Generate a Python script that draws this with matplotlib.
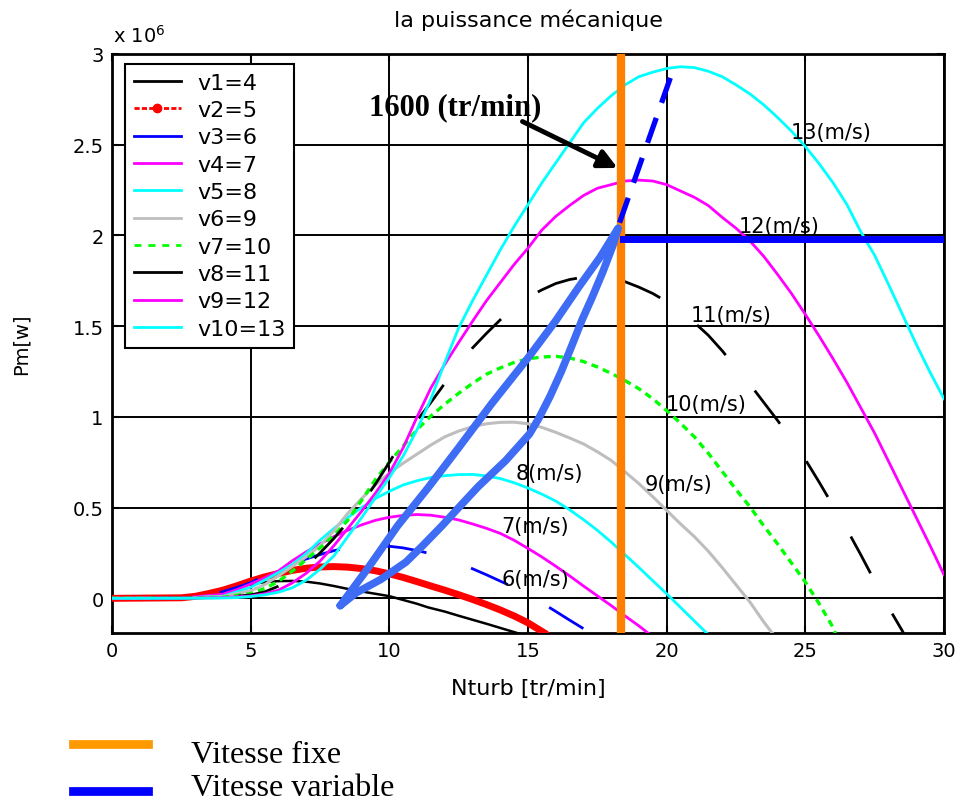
import matplotlib
matplotlib.use("Agg")
import matplotlib.pyplot as plt
from matplotlib.lines import Line2D

plt.rcParams['font.family'] = ['DejaVu Sans']
plt.rcParams['lines.scale_dashes'] = False

# Mechanical power curves (in 10^6 W) versus turbine speed, one per wind speed
N_v4 = [0, 2, 2.5, 3, 3.5, 4, 4.5, 5, 5.5, 6, 6.5, 7, 7.5, 8, 8.5, 9, 9.5, 10, 11, 11.4, 12, 12.5, 13, 13.5, 14, 14.8]
P_v4 = [0, 0.002, 0.006, 0.014, 0.028, 0.046, 0.064, 0.078, 0.089, 0.095, 0.096, 0.092, 0.082, 0.068, 0.052, 0.038,
        0.025, 0.012, -0.03, -0.05, -0.073, -0.096, -0.118, -0.14, -0.163, -0.2]

N_v5 = [0, 2.5, 3, 3.5, 4, 4.5, 5, 5.5, 6, 6.5, 7, 7.5, 8, 8.5, 9, 9.5, 10, 10.5, 11, 11.5, 12, 12.5, 13, 13.5, 14,
        14.5, 15, 15.65]
P_v5 = [0, 0.003, 0.011, 0.027, 0.045, 0.069, 0.095, 0.118, 0.137, 0.154, 0.166, 0.173, 0.175, 0.172, 0.164, 0.152,
        0.135, 0.115, 0.092, 0.068, 0.045, 0.02, -0.006, -0.034, -0.064, -0.097, -0.135, -0.196]

N_v6 = [0, 2.5, 3, 3.5, 4, 4.5, 5, 5.5, 6, 6.5, 7, 7.5, 8, 8.5, 9, 9.5, 10, 10.5, 11, 11.5, 12, 12.5, 13, 13.5, 14,
        14.5, 15, 15.5, 16, 16.5, 17, 17.3]
P_v6 = [0, 0.001, 0.006, 0.017, 0.037, 0.06, 0.086, 0.125, 0.161, 0.19, 0.217, 0.241, 0.263, 0.277, 0.285, 0.288,
        0.287, 0.278, 0.263, 0.246, 0.224, 0.195, 0.163, 0.13, 0.095, 0.06, 0.02, -0.025, -0.072, -0.12, -0.167, -0.2]

N_v7 = [0, 2.5, 4, 4.5, 5, 5.5, 6, 6.5, 7, 7.5, 8, 8.5, 9, 9.5, 10, 10.5, 11, 11.5, 12, 12.5, 13, 13.5, 14, 14.5, 15,
        15.5, 16, 16.5, 17, 17.5, 18, 18.5, 19, 19.4]
P_v7 = [0, 0.001, 0.023, 0.048, 0.079, 0.112, 0.151, 0.207, 0.256, 0.30, 0.34, 0.375, 0.405, 0.43, 0.447, 0.457, 0.462,
        0.458, 0.447, 0.432, 0.41, 0.386, 0.358, 0.32, 0.275, 0.228, 0.177, 0.124, 0.068, 0.014, -0.04, -0.097,
        -0.152, -0.2]

N_v8 = [0, 2.5, 4, 5, 5.5, 6, 6.5, 7, 7.5, 8, 8.5, 9, 9.5, 10, 10.5, 11, 11.5, 12, 12.5, 13, 13.5, 14, 14.5, 15, 15.5,
        16, 16.5, 17, 17.5, 18, 18.5, 19, 19.5, 20, 20.5, 21, 21.5]
P_v8 = [0, 0.001, 0.012, 0.061, 0.10, 0.142, 0.187, 0.247, 0.32, 0.385, 0.445, 0.50, 0.55, 0.59, 0.625, 0.648, 0.666,
        0.676, 0.682, 0.683, 0.675, 0.66, 0.637, 0.608, 0.574, 0.536, 0.488, 0.434, 0.375, 0.31, 0.24, 0.17, 0.097,
        0.025, -0.05, -0.125, -0.2]

N_v9 = [0, 2.5, 4, 5, 5.5, 6, 6.5, 7, 7.5, 8, 8.5, 9, 9.5, 10, 10.5, 11, 11.5, 12, 12.5, 13, 13.5, 14, 14.5, 15, 15.5,
        16, 16.5, 17, 17.5, 18, 18.5, 19, 19.5, 20, 20.5, 21, 21.5, 22, 22.5, 23, 23.5, 23.85]
P_v9 = [0, 0.001, 0.01, 0.042, 0.075, 0.124, 0.176, 0.229, 0.29, 0.373, 0.468, 0.55, 0.625, 0.69, 0.745, 0.795, 0.845,
        0.89, 0.922, 0.946, 0.962, 0.97, 0.971, 0.962, 0.942, 0.915, 0.884, 0.851, 0.808, 0.76, 0.697, 0.632, 0.56,
        0.485, 0.41, 0.34, 0.26, 0.17, 0.075, -0.02, -0.13, -0.2]

N_v10 = [0, 2.5, 4, 5, 5.5, 6, 6.5, 7, 7.5, 8, 8.5, 9, 9.5, 10, 10.5, 11, 11.5, 12, 12.5, 13, 13.5, 14, 14.5, 15,
         15.5, 16, 16.5, 17, 17.5, 18, 18.5, 19, 19.5, 20, 20.5, 21, 21.5, 22, 22.5, 23, 23.5, 24, 24.5, 25, 25.5,
         26, 26.1]
P_v10 = [0, 0.001, 0.006, 0.026, 0.054, 0.093, 0.15, 0.213, 0.278, 0.346, 0.43, 0.54, 0.655, 0.75, 0.84, 0.93, 1.005,
         1.07, 1.13, 1.185, 1.235, 1.27, 1.30, 1.32, 1.33, 1.334, 1.325, 1.305, 1.275, 1.24, 1.20, 1.155, 1.10, 1.035,
         0.965, 0.89, 0.80, 0.70, 0.60, 0.505, 0.40, 0.30, 0.195, 0.09, -0.03, -0.16, -0.2]

N_v11 = [0, 2.5, 4, 5, 5.5, 6, 6.5, 7, 7.5, 8, 8.5, 9, 9.5, 10, 10.5, 11, 11.5, 12, 12.5, 13, 13.5, 14, 14.5, 15,
         15.5, 16, 16.5, 17, 17.5, 18, 18.5, 19, 19.5, 20, 20.5, 21, 21.5, 22, 22.5, 23, 23.5, 24, 24.5, 25, 25.5,
         26, 26.5, 27, 27.5, 28, 28.5, 28.6]
P_v11 = [0, 0.001, 0.005, 0.019, 0.035, 0.067, 0.112, 0.176, 0.25, 0.33, 0.42, 0.52, 0.63, 0.75, 0.875, 0.98, 1.08,
         1.185, 1.285, 1.38, 1.46, 1.535, 1.605, 1.66, 1.70, 1.735, 1.757, 1.77, 1.772, 1.762, 1.745, 1.715, 1.68,
         1.635, 1.585, 1.52, 1.45, 1.365, 1.27, 1.18, 1.08, 0.98, 0.875, 0.765, 0.64, 0.51, 0.38, 0.24, 0.095, -0.05,
         -0.18, -0.21]

N_v12 = [0, 2.5, 4, 5, 5.5, 6, 6.5, 7, 7.5, 8, 8.5, 9, 9.5, 10, 10.5, 11, 11.5, 12, 12.5, 13, 13.5, 14, 14.5, 15,
         15.5, 16, 16.5, 17, 17.5, 18, 18.5, 19, 19.5, 20, 20.5, 21, 21.5, 22, 22.5, 23, 23.5, 24, 24.5, 25, 25.5,
         26, 26.5, 27, 27.5, 28, 28.5, 29, 29.5, 30]
P_v12 = [0, 0.001, 0.004, 0.013, 0.025, 0.045, 0.085, 0.138, 0.205, 0.29, 0.385, 0.48, 0.58, 0.689, 0.83, 1.0, 1.16,
         1.29, 1.41, 1.527, 1.64, 1.74, 1.84, 1.93, 2.03, 2.105, 2.165, 2.22, 2.26, 2.28, 2.30, 2.305, 2.30, 2.28,
         2.245, 2.21, 2.165, 2.10, 2.04, 1.97, 1.885, 1.785, 1.68, 1.565, 1.445, 1.32, 1.19, 1.05, 0.91, 0.755, 0.60,
         0.445, 0.29, 0.13]

N_v13 = [0, 2.5, 4, 4.5, 5, 5.5, 6, 6.5, 7, 7.5, 8, 8.5, 9, 9.5, 10, 10.5, 11, 11.5, 12, 12.5, 13, 13.5, 14, 14.5,
         15, 15.5, 16, 16.5, 17, 17.5, 18, 18.5, 19, 19.5, 20, 20.5, 21, 21.5, 22, 22.5, 23, 23.5, 24, 24.5, 25, 25.5,
         26, 26.5, 27, 27.5, 28, 28.5, 29, 29.5, 30]
P_v13 = [0, 0, 0.002, 0.004, 0.01, 0.019, 0.034, 0.058, 0.10, 0.16, 0.234, 0.34, 0.445, 0.555, 0.665, 0.785, 0.93,
         1.10, 1.30, 1.49, 1.64, 1.78, 1.92, 2.05, 2.17, 2.29, 2.40, 2.51, 2.62, 2.70, 2.77, 2.83, 2.875, 2.90, 2.92,
         2.93, 2.925, 2.905, 2.875, 2.83, 2.78, 2.72, 2.65, 2.575, 2.49, 2.395, 2.29, 2.17, 2.02, 1.89, 1.73, 1.565,
         1.40, 1.245, 1.10]

legend_labels = ['v1=4', 'v2=5', 'v3=6', 'v4=7', 'v5=8', 'v6=9', 'v7=10', 'v8=11', 'v9=12', 'v10=13']
curve_tags = ['13(m/s)', '12(m/s)', '11(m/s)', '10(m/s)', '9(m/s)', '8(m/s)', '7(m/s)', '6(m/s)']
tag_x = [24.48, 22.6, 20.87, 19.97, 19.19, 14.54, 14.02, 14.06]
tag_y = [2.57, 2.05, 1.56, 1.07, 0.63, 0.69, 0.40, 0.106]

# Fixed-speed operating line and variable-speed trajectory
fixed_speed = 18.36
var_up_N = [8.23, 9.2, 10.3, 11.4, 12.45, 13.7, 15.05, 16.0, 16.85, 17.6, 18.25]
var_up_P = [-0.04, 0.16, 0.40, 0.61, 0.82, 1.075, 1.335, 1.53, 1.72, 1.88, 2.04]
var_low_N = [18.25, 18.05, 17.7, 17.33, 16.95, 16.6, 16.2, 15.8, 15.4, 15.05, 14.2, 13.2, 12.5, 11.9, 11.2, 10.6, 9.7,
             8.8, 8.23]
var_low_P = [2.04, 1.94, 1.80, 1.665, 1.535, 1.40, 1.25, 1.115, 0.995, 0.905, 0.76, 0.615, 0.50, 0.40, 0.29, 0.20,
             0.105, 0.03, -0.04]
var_dash_N = [18.3, 20.25]
var_dash_P = [2.07, 2.92]
var_flat_N = [18.44, 30.0]
var_flat_P = [1.983, 1.983]

x_ticks = [0, 5, 10, 15, 20, 25, 30]
y_ticks = [0, 0.5, 1, 1.5, 2, 2.5, 3]
y_ticklabels = ['0', '0.5', '1', '1.5', '2', '2.5', '3']

fig = plt.figure(figsize=(9.6, 8.03), dpi=100)
ax = fig.add_axes([112 / 960, 1 - 634 / 803, (944 - 112) / 960, (634 - 55) / 803])

curves = [
    (N_v4, P_v4, dict(color='black', lw=1.8)),
    (N_v5, P_v5, dict(color='#FF0000', lw=5, solid_capstyle='round')),
    (N_v6, P_v6, dict(color='#0000FF', lw=2.0, ls=(48, (29, 34)))),
    (N_v7, P_v7, dict(color='#FF00FF', lw=2.0)),
    (N_v8, P_v8, dict(color='#00FFFF', lw=2.0)),
    (N_v9, P_v9, dict(color='#BEBEBE', lw=2.2)),
    (N_v10, P_v10, dict(color='#00FF00', lw=2.4, dashes=(5, 3.8))),
    (N_v11, P_v11, dict(color='black', lw=2.0, ls=(35, (30, 33)))),
    (N_v12, P_v12, dict(color='#FF00FF', lw=2.0)),
    (N_v13, P_v13, dict(color='#00FFFF', lw=2.0)),
]
for n, p, style in curves:
    ax.plot(n, p, zorder=3, **style)

ax.plot([fixed_speed, fixed_speed], [-0.3, 3.1], color='#FF8000', lw=6, zorder=4)
ax.plot(var_up_N + var_low_N, var_up_P + var_low_P, color='#3E6CF4', lw=5.5,
        solid_joinstyle='round', solid_capstyle='round', zorder=5)
ax.plot(var_dash_N, var_dash_P, color='#0000FF', lw=3.8, dashes=(19, 11.5), zorder=5)
ax.plot(var_flat_N, var_flat_P, color='#0000FF', lw=5, zorder=5)

for t, x, y in zip(curve_tags, tag_x, tag_y):
    ax.text(x, y, t, fontsize=15, va='center', ha='left', zorder=6)

ax.annotate('', xy=(18.23, 2.372), xytext=(14.8, 2.628),
            arrowprops=dict(arrowstyle='-|>', lw=3.5, color='black', mutation_scale=28,
                            shrinkA=0, shrinkB=0), zorder=7)
ax.text(9.28, 2.71, '1600 (tr/min)', family='Liberation Serif', fontweight='bold',
        fontsize=22, va='center', ha='left', zorder=7)

ax.set_xlim(0, 30)
ax.set_ylim(-0.191, 3.0)
ax.set_xticks(x_ticks)
ax.set_yticks(y_ticks)
ax.set_yticklabels(y_ticklabels)
ax.tick_params(direction='in', length=5, width=1.5, top=True, right=True, labelsize=14, pad=6)
ax.grid(True, color='black', lw=1.4, ls='-')
ax.set_axisbelow(True)
for s in ax.spines.values():
    s.set_linewidth(2)

ax.set_title('la puissance mécanique', fontsize=16, pad=20)
ax.set_xlabel('Nturb [tr/min]', fontsize=16, labelpad=13)
ax.set_ylabel('Pm[w]', fontsize=14, labelpad=30)
fig.text(113 / 960, 1 - 43 / 803, r'x 10$^{6}$', fontsize=14, va='baseline', ha='left')

handles = [
    Line2D([], [], color='black', lw=2),
    Line2D([], [], color='#FF0000', lw=2, ls='--', marker='.', ms=12),
    Line2D([], [], color='#0000FF', lw=2),
    Line2D([], [], color='#FF00FF', lw=2),
    Line2D([], [], color='#00FFFF', lw=2),
    Line2D([], [], color='#BEBEBE', lw=2),
    Line2D([], [], color='#00FF00', lw=2, dashes=(5, 5)),
    Line2D([], [], color='black', lw=2),
    Line2D([], [], color='#FF00FF', lw=2),
    Line2D([], [], color='#00FFFF', lw=2),
]
leg = ax.legend(handles, legend_labels, loc='upper left', bbox_to_anchor=(0.0156, 0.983),
                fontsize=16, frameon=True, fancybox=False, edgecolor='black', framealpha=1,
                handlelength=2.1, handletextpad=0.75, labelspacing=0.33, borderpad=0.4,
                borderaxespad=0)
leg.get_frame().set_linewidth(1.5)
leg.set_zorder(8)

# Key for the fixed / variable speed strategies below the axes
fig.add_artist(Line2D([73 / 960, 148 / 960], [1 - 745 / 803, 1 - 745 / 803],
                      color='#FF9900', lw=6.3, transform=fig.transFigure))
fig.add_artist(Line2D([73 / 960, 148 / 960], [1 - 791.5 / 803, 1 - 791.5 / 803],
                      color='#0000FF', lw=6.3, transform=fig.transFigure))
fig.text(190.7 / 960, 1 - 763.3 / 803, 'Vitesse fixe', family='Liberation Serif',
         fontsize=23, va='baseline', ha='left')
fig.text(190.7 / 960, 1 - 796 / 803, 'Vitesse variable', family='Liberation Serif',
         fontsize=23, va='baseline', ha='left')

fig.savefig('out.png', dpi=100)
